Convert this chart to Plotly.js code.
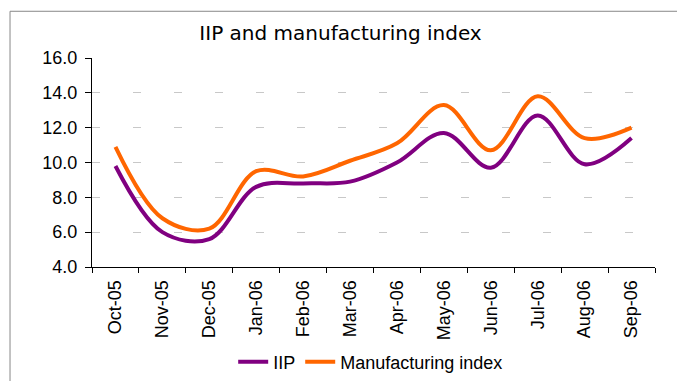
<!DOCTYPE html>
<html>
<head>
<meta charset="utf-8">
<script src="https://cdn.plot.ly/plotly-3.0.1.min.js"></script>
<style>html,body{margin:0;padding:0;background:#fff;}#chart{width:677px;height:381px;}</style>
</head>
<body>
<div id="chart"></div>
<script>
const months = ["Oct-05","Nov-05","Dec-05","Jan-06","Feb-06","Mar-06","Apr-06","May-06","Jun-06","Jul-06","Aug-06","Sep-06"];
const iip = [9.8, 6.0, 5.6, 8.6, 8.8, 8.9, 10.0, 11.7, 9.7, 12.7, 9.9, 11.4];
const manufacturing = [10.9, 6.8, 6.2, 9.5, 9.2, 10.1, 11.1, 13.3, 10.7, 13.8, 11.4, 12.0];
const yTicks = [4, 6, 8, 10, 12, 14, 16];

const traces = [
  {x: months, y: iip, name: "IIP", type: "scatter", mode: "lines",
   line: {color: "#800080", width: 4, shape: "spline", smoothing: 1}},
  {x: months, y: manufacturing, name: "Manufacturing index", type: "scatter", mode: "lines",
   line: {color: "#FF6600", width: 4, shape: "spline", smoothing: 1}}
];

const layout = {
  width: 677, height: 381,
  margin: {l: 92, r: 22, t: 58, b: 114},
  paper_bgcolor: "#fff", plot_bgcolor: "#fff",
  title: {text: "IIP and manufacturing index", font: {family: "DejaVu Sans", size: 20, color: "#000"},
          x: 0.503, xanchor: "center", y: 0.913, yanchor: "middle"},
  font: {family: "Liberation Sans, Arial", color: "#000"},
  xaxis: {type: "category", range: [-0.5, 11.5], tickangle: -90, tickson: "boundaries", automargin: false,
          ticks: "outside", ticklen: 5, tickcolor: "#000", showline: true, linecolor: "#000", linewidth: 1,
          ticklabelstandoff: 5,
          showgrid: false, zeroline: false, tickfont: {size: 18, family: "Liberation Sans, Arial"}, fixedrange: true},
  yaxis: {range: [4, 16], tickvals: yTicks, ticktext: yTicks.map(v => v.toFixed(1)), automargin: false,
          ticks: "outside", ticklen: 6, tickcolor: "#000", showline: true, linecolor: "#000", linewidth: 1,
          ticklabelstandoff: 4,
          showgrid: true, gridcolor: "#c8c8c8", gridwidth: 1, griddash: "8px,33px", zeroline: false,
          tickfont: {size: 18, family: "Liberation Sans, Arial"}, fixedrange: true},
  legend: {orientation: "h", x: 0.495, xanchor: "center", yref: "container", y: 0.05, yanchor: "middle",
           font: {size: 18, family: "Liberation Sans, Arial"}, itemwidth: 30, tracegroupgap: 0},
  showlegend: true,
  shapes: [{type: "rect", xref: "paper", yref: "paper", x0: -0.1456, x1: 1.2, y0: -1.0, y1: 1.2236,
            line: {color: "#888", width: 1}, fillcolor: "rgba(0,0,0,0)", layer: "below"}]
};

Plotly.newPlot("chart", traces, layout, {displayModeBar: false, staticPlot: true});
</script>
</body>
</html>
